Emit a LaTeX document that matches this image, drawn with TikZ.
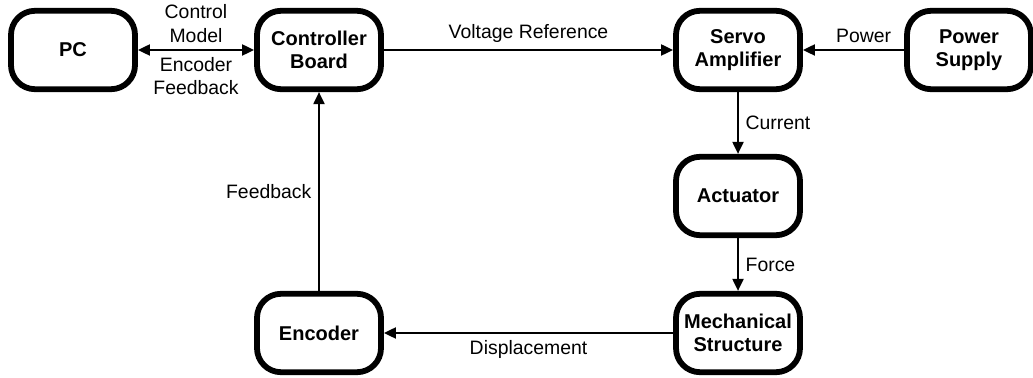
\documentclass[tikz,border=0pt]{standalone}
\usepackage{fontspec}
\setmainfont{Liberation Sans}
\usetikzlibrary{arrows.meta}

\begin{document}
\begin{tikzpicture}[x=0.5pt,y=-0.5pt,>={Triangle[length=6pt,width=5.5pt]},
  block/.style={draw,line width=2.9pt,rounded corners=12pt,minimum width=62pt,
    minimum height=39.2pt,inner sep=0pt,align=center,
    font=\fontsize{10}{11.5}\selectfont\bfseries},
  signal/.style={font=\fontsize{9.7}{11.6}\selectfont,align=center},
  link/.style={->,line width=1pt}]
\useasboundingbox (0,0) rectangle (1033,378);
% blocks
\node[block] (pc) at (73,50) {PC};
\node[block] (board) at (319,50) {Controller\\Board};
\node[block] (servo) at (738,50) {Servo\\Amplifier};
\node[block] (supply) at (969,50) {Power\\Supply};
\node[block] (actuator) at (738,196) {Actuator};
\node[block] (mech) at (738,333) {Mechanical\\Structure};
\node[block] (encoder) at (319,333) {Encoder};
% signals
\draw[link,<->] (pc) -- (board)
  node[midway,above,signal]{Control\\Model}
  node[midway,below,signal]{Encoder\\Feedback};
\draw[link] (board) -- (servo) node[midway,above,signal]{Voltage Reference};
\draw[link] (supply) -- (servo) node[pos=0.4,above,signal]{Power};
\draw[link] (servo) -- (actuator) node[midway,right,signal]{Current};
\draw[link] (actuator) -- (mech) node[midway,right,signal]{Force};
\draw[link] (mech) -- (encoder) node[midway,below,signal]{Displacement};
\draw[link] (encoder) -- (board) node[midway,left,signal]{Feedback};
\end{tikzpicture}
\end{document}
